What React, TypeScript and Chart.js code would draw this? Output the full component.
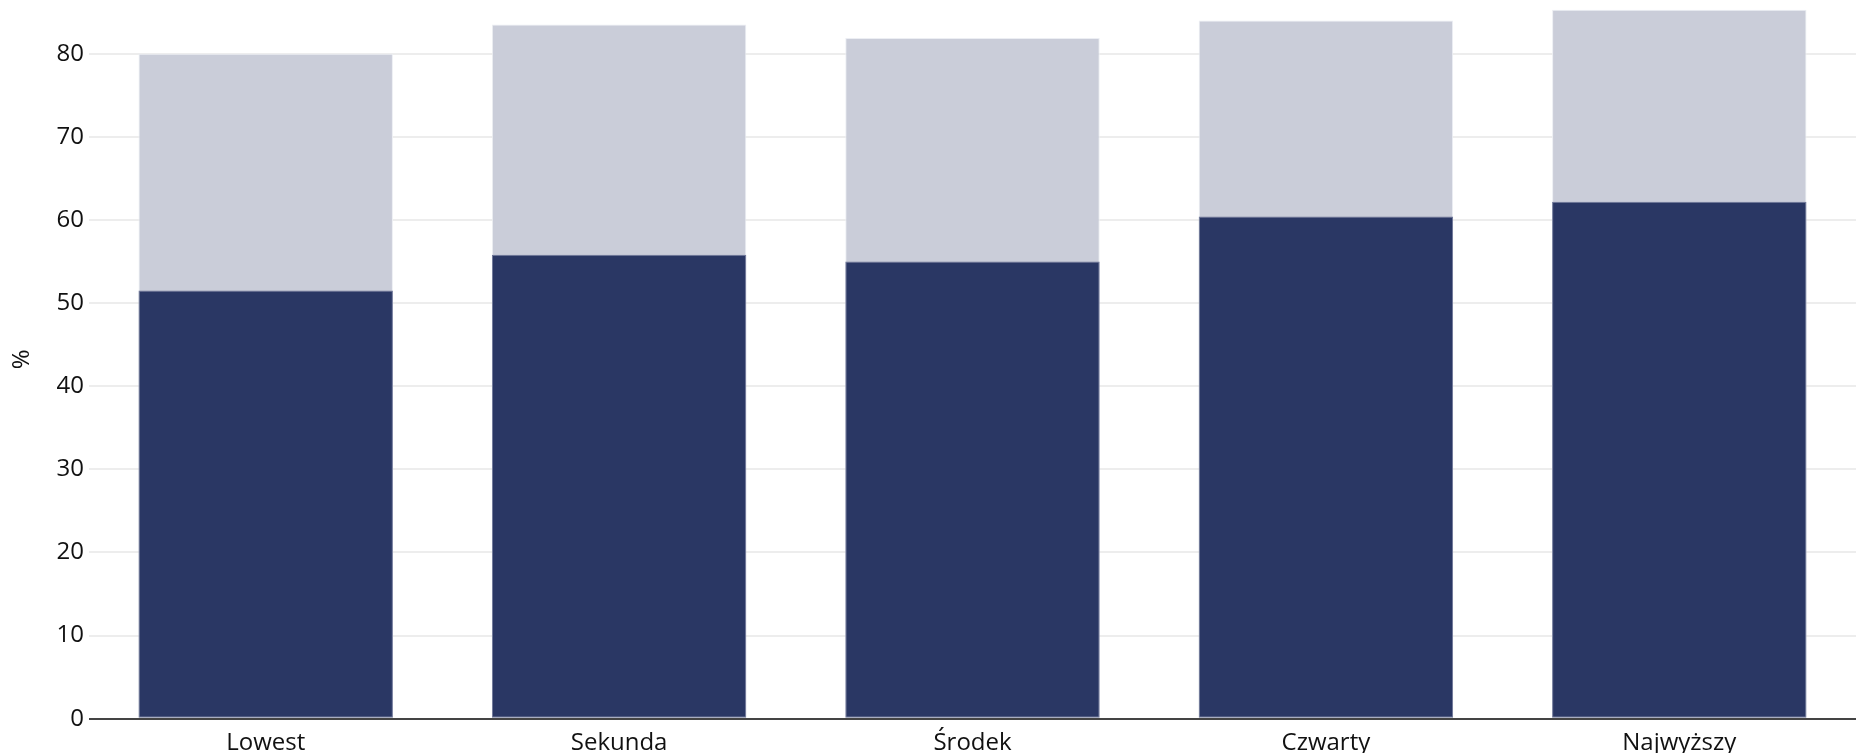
import React, { useEffect, useRef } from "react";
import { Chart, registerables } from "chart.js";

Chart.register(...registerables);

const categories = ["Lowest", "Sekunda", "Środek", "Czwarty", "Najwyższy"];
const partValues = [51.5, 55.8, 55.0, 60.4, 62.2];
const totalValues = [80.0, 83.5, 81.9, 84.0, 85.3];
const yTicks = [0, 10, 20, 30, 40, 50, 60, 70, 80];
const yTitle = "%";

const FONT = "'Open Sans', 'Noto Sans', sans-serif";

export default function App() {
  const ref = useRef<HTMLCanvasElement | null>(null);

  useEffect(() => {
    document.body.style.margin = "0";
    if (!ref.current) return;
    const chart = new Chart(ref.current, {
      type: "bar",
      data: {
        labels: categories,
        datasets: [
          {
            label: "part",
            data: partValues,
            backgroundColor: "#2a3764",
            borderColor: "#6f7799",
            borderWidth: 1,
            borderSkipped: false,
          },
          {
            label: "total",
            data: totalValues,
            backgroundColor: "#cacdd9",
            borderColor: "#eceef3",
            borderWidth: 1,
            borderSkipped: false,
          },
        ],
      },
      options: {
        animation: false,
        responsive: true,
        maintainAspectRatio: false,
        layout: { padding: { left: 0, right: 0, top: 0, bottom: 0 } },
        plugins: {
          legend: { display: false },
          tooltip: { enabled: false },
        },
        scales: {
          x: {
            stacked: true,
            grid: { display: false },
            border: { display: false },
            categoryPercentage: 1,
            barPercentage: 0.737,
            ticks: {
              color: "#111",
              font: { family: FONT, size: 24 },
              padding: 2,
            },
            afterFit: (scale: any) => {
              scale.height = 34.3;
            },
          } as any,
          y: {
            stacked: false,
            min: 0,
            max: 86.46,
            afterBuildTicks: (scale: any) => {
              scale.ticks = yTicks.map((v) => ({ value: v }));
            },
            afterFit: (scale: any) => {
              scale.width = 89;
              scale.paddingTop = 0;
              scale.paddingBottom = 0;
            },
            grid: {
              drawTicks: false,
              color: (ctx: any) => (ctx.tick && ctx.tick.value === 0 ? "#444" : "#ededed"),
              lineWidth: 2,
            },
            border: { display: false },
            ticks: {
              color: "#111",
              font: { family: FONT, size: 24 },
              padding: 5,
            },
            title: {
              display: true,
              text: yTitle,
              color: "#111",
              font: { family: FONT, size: 24 },
              padding: { top: 8, bottom: 0 },
            },
          },
        },
      },
      plugins: [
        {
          id: "forceArea",
          beforeLayout(c: any) {
            c.options.layout.padding.top = 0;
          },
        },
      ],
    });
    return () => chart.destroy();
  }, []);

  return (
    <div style={{ width: 1856, height: 753, position: "relative" }}>
      <canvas ref={ref} />
    </div>
  );
}
